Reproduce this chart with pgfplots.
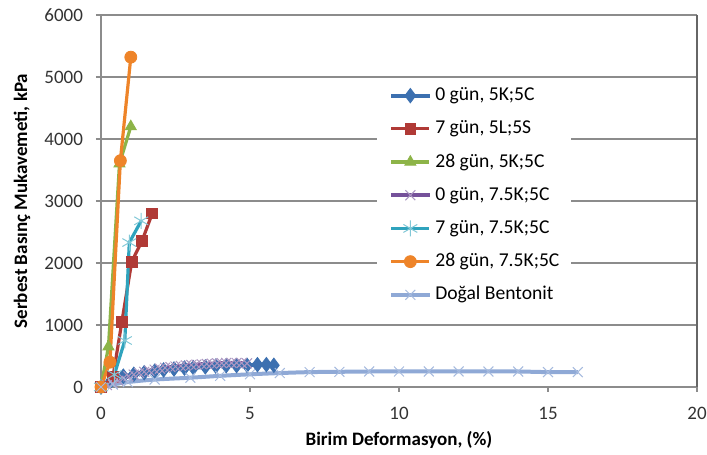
\documentclass[border=0pt]{standalone}
\usepackage{pgfplots}
\pgfplotsset{compat=1.18}
\usepackage{fontspec}
\setmainfont{Carlito}
\definecolor{cblue}{HTML}{3C70B0}
\definecolor{cred}{HTML}{B03A36}
\definecolor{cgreen}{HTML}{8DB448}
\definecolor{cpurple}{HTML}{75519A}
\definecolor{ccyan}{HTML}{2FA3BD}
\definecolor{corange}{HTML}{EE8429}
\definecolor{clblue}{HTML}{8FA9D6}
\definecolor{gridc}{HTML}{8C8C8C}
\begin{document}
\begin{tikzpicture}
\useasboundingbox (-50.5pt,-34pt) rectangle (303pt,193.5pt);
\begin{axis}[
  scale only axis, width=298pt, height=186pt,
  xmin=0, xmax=20, ymin=0, ymax=6000,
  xtick={0,5,10,15,20}, ytick={0,1000,...,6000},
  axis lines*=left,
  axis line style={gridc, line width=0.6pt},
  ymajorgrids, major grid style={gridc, line width=0.6pt},
  tick align=outside, major tick length=2.5pt,
  tick style={gridc, line width=0.6pt},
  xtick pos=bottom, ytick pos=left,
  /pgf/number format/assume math mode=true,
  /pgf/number format/1000 sep={},
  ticklabel style={font=\fontsize{9.5}{11}\selectfont, text=black!80},
  yticklabel style={xshift=-3pt},
  xticklabel style={yshift=-4pt},
  xlabel={\textbf{Birim Deformasyon, (\%)}},
  ylabel={\textbf{Serbest Basınç Mukavemeti, kPa}},
  label style={font=\fontsize{9.5}{11}\selectfont},
  xlabel style={at={(axis description cs:0.5,0)}, anchor=center, yshift=-26.5pt},
  ylabel style={at={(axis description cs:0,0.5)}, anchor=center, rotate=0, xshift=0pt, yshift=39.5pt},
  clip=false,
  legend cell align=left,
  legend style={draw=none, fill=white, at={(rel axis cs:0.463,0.83)}, anchor=north west,
    font=\fontsize{9.8}{11}\selectfont, inner xsep=6pt, inner ysep=4pt,
    row sep=7.6pt, column sep=2pt,
    nodes={inner sep=0pt, text height=7pt, text depth=2pt}},
  legend image code/.code={\draw[mark repeat=2,mark phase=2,#1] plot coordinates {(0pt,0pt)(9.5pt,0pt)(19pt,0pt)};},
  every axis plot/.append style={line width=1.6pt},
]
\addplot[cblue, smooth, line width=2pt, mark=diamond*, mark size=3.6pt, mark options={solid, line width=0.4pt}] coordinates {
(0,0)(0.35,110)(0.75,175)(1.1,205)(1.45,230)(1.8,255)(2.1,275)(2.45,290)(2.8,305)(3.1,312)(3.5,325)(3.85,337)(4.2,343)(4.55,345)(4.9,350)(5.25,360)(5.55,360)(5.8,350)};
\addlegendentry{0 gün, 5K;5C}
\addplot[cred, mark=square*, mark size=2.7pt, mark options={solid, line width=0.4pt}] coordinates {
(0,0)(0.4,160)(0.7,1050)(1.03,2020)(1.38,2360)(1.72,2800)};
\addlegendentry{7 gün, 5L;5S}
\addplot[cgreen, mark=triangle*, mark size=3.2pt, mark options={solid, line width=0.4pt}] coordinates {
(0,0)(0.25,650)(0.62,3600)(1.0,4200)};
\addlegendentry{28 gün, 5K;5C}
\addplot[cpurple, smooth, line width=2pt, mark=x, mark size=3.5pt, mark options={solid, line width=0.5pt, draw=cpurple!60}] coordinates {
(0,0)(0.2,30)(0.4,60)(0.58,100)(0.75,140)(0.92,172)(1.1,200)(1.28,225)(1.45,245)(1.62,263)(1.8,280)(1.98,296)(2.15,310)(2.33,321)(2.5,330)(2.68,340)(2.85,348)(3.03,356)(3.2,362)(3.38,368)(3.55,373)(3.72,378)(3.9,382)(4.05,385)(4.2,388)(4.38,390)(4.55,390)(4.72,387)(4.9,382)};
\addlegendentry{0 gün, 7.5K;5C}
\addplot[ccyan, mark=asterisk, mark size=4pt, mark options={solid, line width=0.5pt, draw=ccyan!60}] coordinates {
(0,0)(0.45,200)(0.8,750)(0.95,2330)(1.35,2680)};
\addlegendentry{7 gün, 7.5K;5C}
\addplot[corange, mark=*, mark size=3pt, mark options={solid, line width=0.4pt}] coordinates {
(0,0)(0.3,400)(0.65,3650)(1.0,5320)};
\addlegendentry{28 gün, 7.5K;5C}
\addplot[clblue, smooth, line width=2pt, mark=x, mark size=3.5pt, mark options={solid, line width=0.5pt, draw=clblue!80}] coordinates {
(0,0)(0.4,40)(0.9,80)(1.8,120)(3,150)(4,180)(5,205)(6,225)(7,240)(8,245)(9,250)(10,250)(11,250)(12,250)(13,250)(14,250)(15,240)(16,240)};
\addlegendentry{Doğal Bentonit}
\draw[black!60, line width=1pt] (rel axis cs:1,0) -- (rel axis cs:1,1);
\end{axis}
\end{tikzpicture}
\end{document}
